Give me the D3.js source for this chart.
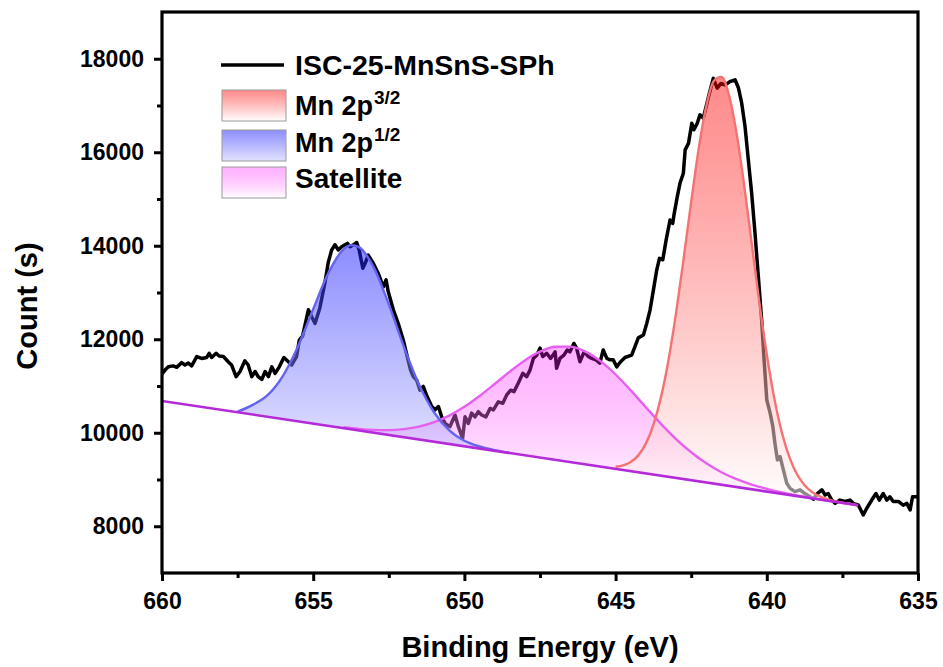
<!DOCTYPE html>
<html>
<head>
<meta charset="utf-8">
<script src="https://cdn.jsdelivr.net/npm/d3@7"></script>
<style>
  html, body { margin: 0; padding: 0; background: #fff; }
  svg { display: block; font-family: "Liberation Sans", Arial, sans-serif; font-weight: bold; }
</style>
</head>
<body>
<svg id="chart" width="943" height="667"></svg>
<script>
// Measured Mn 2p spectrum: binding energy (eV) and counts
const spectrumEnergy = [660.00,659.90,659.79,659.63,659.51,659.35,659.24,659.13,659.02,658.85,658.69,658.52,658.44,658.36,658.21,658.11,657.97,657.81,657.70,657.55,657.42,657.26,657.15,657.03,656.92,656.82,656.70,656.59,656.48,656.37,656.26,656.12,655.97,655.82,655.71,655.55,655.46,655.35,655.16,655.05,654.94,654.78,654.61,654.50,654.39,654.28,654.17,654.06,653.95,653.87,653.78,653.67,653.56,653.48,653.36,653.26,653.18,653.01,652.85,652.68,652.59,652.52,652.35,652.19,652.02,651.89,651.78,651.69,651.58,651.47,651.36,651.23,651.08,650.97,650.86,650.75,650.64,650.48,650.31,650.20,650.06,649.98,649.87,649.76,649.65,649.54,649.43,649.29,649.15,649.04,648.88,648.73,648.60,648.47,648.36,648.22,648.07,647.94,647.83,647.72,647.61,647.50,647.41,647.28,647.15,647.00,646.95,646.84,646.71,646.60,646.51,646.38,646.29,646.18,646.04,645.90,645.79,645.65,645.52,645.41,645.29,645.18,645.08,644.96,644.85,644.69,644.47,644.36,644.25,644.08,643.97,643.86,643.75,643.64,643.55,643.44,643.33,643.20,643.11,643.07,642.96,642.87,642.76,642.70,642.59,642.48,642.41,642.30,642.21,642.10,642.01,641.90,641.77,641.64,641.52,641.38,641.22,641.05,640.94,640.83,640.72,640.61,640.50,640.39,640.28,640.17,640.09,640.00,639.89,639.80,639.73,639.65,639.56,639.45,639.34,639.23,639.07,638.90,638.74,638.57,638.46,638.33,638.18,638.07,637.97,637.85,637.74,637.58,637.42,637.25,637.14,636.97,636.81,636.70,636.53,636.39,636.28,636.15,636.03,635.93,635.82,635.65,635.49,635.37,635.26,635.18,635.03];
const spectrumCounts = [11260,11340,11410,11430,11400,11500,11450,11490,11430,11630,11590,11610,11700,11610,11700,11640,11630,11520,11450,11200,11310,11540,11450,11200,11310,11200,11140,11310,11200,11410,11270,11410,11610,11520,11450,11630,11980,12070,12630,12480,12340,12670,13220,13650,13910,14020,13910,13980,14020,14050,13980,14020,14070,13910,13520,13660,13800,13620,13410,13120,13270,13020,12630,12340,11980,11630,11340,11200,11130,10910,10990,10770,10560,10490,10560,10340,10200,10130,10380,10130,9880,10340,10200,10420,10340,10450,10380,10340,10520,10490,10660,10630,10810,10910,10880,11060,11270,11200,11340,11590,11660,11810,11630,11700,11590,11730,11380,11590,11660,11770,11730,11910,11810,11520,11730,11630,11590,11560,11490,11770,11590,11560,11560,11410,11510,11610,11660,11840,12030,12090,12340,12630,13050,13480,13730,13700,14120,14550,14480,14660,15050,15340,15550,16050,16190,16620,16480,16620,16800,16730,16970,17260,17580,17370,17470,17440,17510,17550,17380,17050,16550,15830,15120,14270,13340,12410,11560,10700,10420,10130,9770,9420,9490,9200,8920,8810,8740,8780,8700,8630,8580,8700,8780,8670,8700,8560,8490,8560,8530,8560,8490,8450,8240,8380,8560,8700,8560,8700,8560,8630,8530,8530,8450,8490,8350,8630,8630];

// Linear background (end points)
const baselineEnergy = [660, 636.98];
const baselineCounts = [10680, 8450];

// Fitted components (background + component), counts
const mn32Energy = [645.0,644.75,644.5,644.25,644.0,643.75,643.5,643.25,643.0,642.75,642.5,642.25,642.0,641.75,641.5,641.25,641.0,640.75,640.5,640.25,640.0,639.75,639.5,639.25,639.0,638.75,638.5,638.25,638.0,637.75,637.5,637.0];
const mn32Counts = [9274,9301,9372,9516,9767,10168,10757,11558,12563,13724,14942,16083,16992,17530,17612,17219,16410,15303,14053,12804,11673,10730,10001,9473,9112,8877,8730,8638,8579,8537,8505,8450];

const mn12Energy = [657.5,657.0,656.5,656.0,655.5,655.0,654.5,654.0,653.75,653.5,653.0,652.5,652.0,651.5,651.0,650.5,650.0,649.5,649.0,648.5];
const mn12Counts = [10450,10597,10809,11219,11852,12645,13414,13923,14014,13976,13537,12746,11838,11030,10433,10052,9830,9706,9627,9570];

const satEnergy = [654.0,653.5,653.0,652.5,652.0,651.5,651.0,650.5,650.0,649.5,649.0,648.5,648.0,647.5,647.0,646.5,646.0,645.5,645.0,644.5,644.0,643.5,643.0,642.5,642.0,641.5,641.0,640.5,640.0,639.5,639.0,638.5,638.0,637.5,637.0];
const satCounts = [10118,10083,10062,10057,10078,10130,10225,10366,10554,10785,11043,11307,11548,11734,11838,11842,11737,11532,11246,10907,10546,10191,9865,9582,9345,9156,9007,8892,8800,8725,8661,8605,8551,8501,8450];

// Axis ticks
const xTicks = [660, 655, 650, 645, 640, 635];
const xMinorTicks = [657.5, 652.5, 647.5, 642.5, 637.5];
const yTicks = [8000, 10000, 12000, 14000, 16000, 18000];
const yMinorTicks = [9000, 11000, 13000, 15000, 17000];

const svg = d3.select("#chart");
const plotLeft = 162, plotRight = 918, plotTop = 12, plotBottom = 573;

const x = d3.scaleLinear().domain([660, 635]).range([plotLeft, plotRight]);
const y = d3.scaleLinear().domain([7000, 19000]).range([plotBottom, plotTop]);
const background = d3.scaleLinear().domain(baselineEnergy).range(baselineCounts);

const defs = svg.append("defs");
function gradient(id, c0, o0, c1, o1) {
  const g = defs.append("linearGradient").attr("id", id)
    .attr("x1", 0).attr("y1", 0).attr("x2", 0).attr("y2", 1);
  g.append("stop").attr("offset", "0%").attr("stop-color", c0).attr("stop-opacity", o0);
  g.append("stop").attr("offset", "100%").attr("stop-color", c1).attr("stop-opacity", o1);
}
gradient("gRed", "#ff0000", 0.46, "#ffffff", 0.55);
gradient("gBlue", "#1a1aff", 0.5, "#c4c4ff", 0.5);
gradient("gSat", "#ff00ff", 0.3, "#ffffff", 0.5);

defs.append("clipPath").attr("id", "plotClip")
  .append("rect").attr("x", plotLeft).attr("y", plotTop)
  .attr("width", plotRight - plotLeft).attr("height", plotBottom - plotTop);

const plot = svg.append("g").attr("clip-path", "url(#plotClip)");

// Measured spectrum
const spectrum = spectrumEnergy.map((e, i) => [e, spectrumCounts[i]]);
plot.append("path")
  .datum(spectrum)
  .attr("fill", "none")
  .attr("stroke", "#000")
  .attr("stroke-width", 3.5)
  .attr("stroke-linejoin", "round")
  .attr("d", d3.line().x(d => x(d[0])).y(d => y(d[1])));

// Fitted components
const components = [
  { e: satEnergy, c: satCounts, fill: "url(#gSat)", stroke: "#e65ff0" },
  { e: mn12Energy, c: mn12Counts, fill: "url(#gBlue)", stroke: "#6464ee" },
  { e: mn32Energy, c: mn32Counts, fill: "url(#gRed)", stroke: "#f47272" }
];
const area = d3.area()
  .curve(d3.curveMonotoneX)
  .x(d => x(d[0]))
  .y0(d => y(background(d[0])))
  .y1(d => y(d[1]));
const line = d3.line().curve(d3.curveMonotoneX).x(d => x(d[0])).y(d => y(d[1]));

components.forEach(comp => {
  const pts = comp.e.map((e, i) => [e, comp.c[i]]);
  plot.append("path").datum(pts).attr("fill", comp.fill).attr("stroke", "none").attr("d", area);
});
components.forEach(comp => {
  const pts = comp.e.map((e, i) => [e, comp.c[i]]);
  plot.append("path").datum(pts).attr("fill", "none")
    .attr("stroke", comp.stroke).attr("stroke-width", 2.4).attr("d", line);
});

// Background line
plot.append("path")
  .datum(baselineEnergy.map((e, i) => [e, baselineCounts[i]]))
  .attr("fill", "none")
  .attr("stroke", "#b52ad8")
  .attr("stroke-width", 2.6)
  .attr("d", d3.line().x(d => x(d[0])).y(d => y(d[1])));

// Axes
svg.append("g").attr("transform", `translate(0,${plotBottom})`)
  .call(d3.axisBottom(x).tickValues(xTicks).tickSize(8).tickPadding(12).tickFormat(d3.format("d")));
svg.append("g").attr("transform", `translate(0,${plotBottom})`)
  .call(d3.axisBottom(x).tickValues(xMinorTicks).tickSize(5).tickFormat(""));
svg.append("g").attr("transform", `translate(${plotLeft},0)`)
  .call(d3.axisLeft(y).tickValues(yTicks).tickSize(8).tickPadding(10).tickFormat(d3.format("d")));
svg.append("g").attr("transform", `translate(${plotLeft},0)`)
  .call(d3.axisLeft(y).tickValues(yMinorTicks).tickSize(5).tickFormat(""));

svg.selectAll(".domain").remove();
svg.selectAll(".tick line").attr("stroke", "#000").attr("stroke-width", 3);
svg.selectAll(".tick text").attr("fill", "#000").attr("font-size", "23px")
  .attr("font-weight", "bold").attr("font-family", "'Liberation Sans', Arial, sans-serif");

// Frame
svg.append("rect").attr("x", plotLeft).attr("y", plotTop)
  .attr("width", plotRight - plotLeft).attr("height", plotBottom - plotTop)
  .attr("fill", "none").attr("stroke", "#000").attr("stroke-width", 3.2);

// Axis titles
svg.append("text").attr("x", (plotLeft + plotRight) / 2).attr("y", 657)
  .attr("text-anchor", "middle").attr("font-size", "29px").text("Binding Energy (eV)");
svg.append("text").attr("transform", "translate(37,306) rotate(-90)")
  .attr("text-anchor", "middle").attr("font-size", "29px").text("Count (s)");

// Legend
const lg = svg.append("g");
lg.append("line").attr("x1", 221).attr("x2", 284).attr("y1", 65).attr("y2", 65)
  .attr("stroke", "#000").attr("stroke-width", 3.5);
lg.append("text").attr("x", 295).attr("y", 75).attr("font-size", "28.5px").text("ISC-25-MnSnS-SPh");

const legendItems = [
  { fill: "url(#gRed)", y: 90, base: 115, label: "Mn 2p", sup: "3/2", size: 27 },
  { fill: "url(#gBlue)", y: 130, base: 152, label: "Mn 2p", sup: "1/2", size: 27 },
  { fill: "url(#gSat)", y: 167, base: 188, label: "Satellite", sup: null, size: 28 }
];
legendItems.forEach(it => {
  lg.append("rect").attr("x", 222).attr("y", it.y).attr("width", 64).attr("height", 31)
    .attr("fill", it.fill).attr("stroke", "#9a9a9a").attr("stroke-width", 1);
  const t = lg.append("text").attr("x", 295).attr("y", it.base)
    .attr("font-size", it.size + "px").text(it.label);
  if (it.sup) {
    t.append("tspan").attr("dy", -11).attr("dx", 1).attr("font-size", "19px").text(it.sup);
  }
});
</script>
</body>
</html>
